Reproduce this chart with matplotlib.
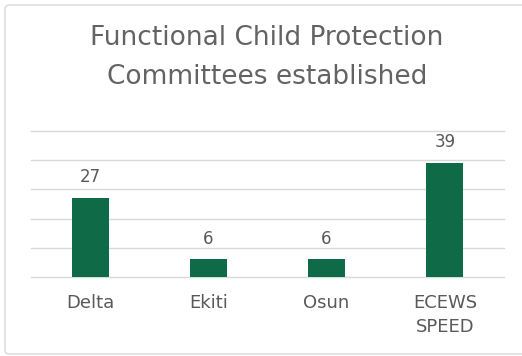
import matplotlib.pyplot as plt
from matplotlib.patches import FancyBboxPatch

categories = ['Delta', 'Ekiti', 'Osun', 'ECEWS\nSPEED']
values = [27, 6, 6, 39]
title_lines = ['Functional Child Protection', 'Committees established']

bar_color = '#0f6b47'
text_color = '#595959'
grid_color = '#d9d9d9'

plt.rcParams['font.family'] = ['DejaVu Sans']

fig = plt.figure(figsize=(5.22, 3.56), dpi=100)
W, H = 522, 356

# chart border (right edge runs off the crop)
border = FancyBboxPatch((5 / W, 2 / H), 530 / W, 349 / H,
                        boxstyle='round,pad=0,rounding_size=0.01',
                        transform=fig.transFigure, facecolor='none',
                        edgecolor=grid_color, linewidth=1, zorder=-1)
fig.patches.append(border)

ax = fig.add_axes([31 / W, 1 - 277 / H, 473 / W, 146 / H])
ax.set_facecolor('none')

x = range(len(categories))
ax.bar(x, values, width=0.315, color=bar_color, zorder=3)
for i, v in enumerate(values):
    ax.annotate(str(v), (i, v), xytext=(0, 11.5), textcoords='offset points',
                ha='center', va='baseline', fontsize=12, color=text_color)

ax.set_xlim(-0.5, len(categories) - 0.5)
ax.set_ylim(0, 50)
ax.set_yticks(range(0, 51, 10))
ax.yaxis.grid(True, color=grid_color, linewidth=1)
for gl in ax.get_ygridlines():
    gl.set_clip_on(False)
ax.set_yticklabels([])
ax.tick_params(axis='y', length=0)
ax.set_xticks(list(x))
ax.set_xticklabels(categories, fontsize=13, color=text_color, linespacing=1.45)
ax.tick_params(axis='x', length=0, pad=12)
for s in ax.spines.values():
    s.set_visible(False)

fig.text(267 / W, 1 - 45 / H, title_lines[0], ha='center', va='baseline',
         fontsize=19, color='#636363')
fig.text(267 / W, 1 - 84 / H, title_lines[1], ha='center', va='baseline',
         fontsize=19, color='#636363')

fig.savefig('out.png', dpi=100)
plt.close(fig)
